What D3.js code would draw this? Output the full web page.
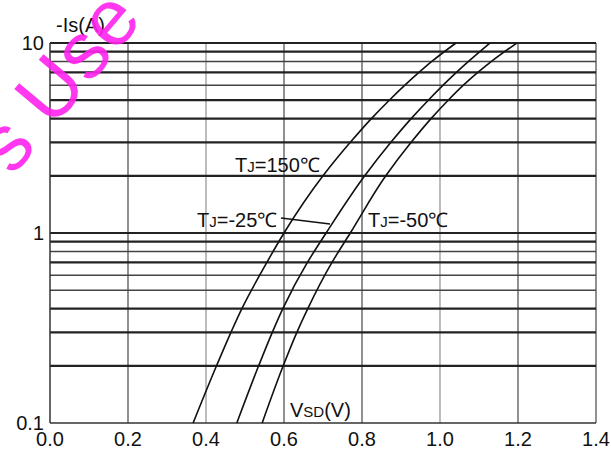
<!DOCTYPE html>
<html><head><meta charset="utf-8">
<script src="https://cdn.jsdelivr.net/npm/d3@7/dist/d3.min.js"></script>
<style>
html,body{margin:0;padding:0;background:#fff;}
svg{display:block;font-family:"Liberation Sans",Arial,sans-serif;}
</style></head>
<body>
<svg id="chart" width="611" height="452"></svg>
<script>
// ---- data ----
const currentA = [0.1, 0.2, 0.3, 0.4, 0.7, 1, 2, 3, 4, 5, 6, 7, 8, 10];
const vsd150 = [0.367, 0.427, 0.464, 0.492, 0.556, 0.600, 0.700, 0.770, 0.824, 0.870, 0.910, 0.946, 0.979, 1.041];
const vsdM25 = [0.479, 0.535, 0.570, 0.597, 0.660, 0.708, 0.807, 0.874, 0.926, 0.970, 1.008, 1.042, 1.073, 1.128];
const vsdM50 = [0.544, 0.598, 0.633, 0.661, 0.723, 0.770, 0.861, 0.926, 0.977, 1.021, 1.060, 1.097, 1.132, 1.197];
const xTicks = [0, 0.2, 0.4, 0.6, 0.8, 1.0, 1.2, 1.4];
const yTickLabels = [{v: 10, t: "10"}, {v: 1, t: "1"}, {v: 0.1, t: "0.1"}];
const yGrid = [0.2,0.3,0.4,0.5,0.6,0.7,0.8,0.9,1,2,3,4,5,6,7,8,9,10];
const thinGrid = [0.5, 0.6, 0.8, 6, 8];

const svg = d3.select("#chart");
const x = d3.scaleLinear().domain([0, 1.4]).range([50, 596]);
const y = d3.scaleLog().domain([0.1, 10]).range([423, 43]);

// vertical grid
svg.append("g").selectAll("line").data(xTicks.slice(1)).join("line")
  .attr("x1", d => x(d)).attr("x2", d => x(d))
  .attr("y1", y(10)).attr("y2", y(0.1))
  .attr("stroke", d => (d === 0.4 || d === 1.0) ? "#999" : "#555")
  .attr("stroke-width", 1.3);

// horizontal grid
svg.append("g").selectAll("line").data(yGrid).join("line")
  .attr("x1", x(0)).attr("x2", x(1.4))
  .attr("y1", d => y(d)).attr("y2", d => y(d))
  .attr("stroke", d => thinGrid.includes(d) ? "#444" : "#222")
  .attr("stroke-width", d => thinGrid.includes(d) ? 1.5 : 2.2);

// axes lines
svg.append("line").attr("x1", x(0)).attr("x2", x(0)).attr("y1", y(10)).attr("y2", y(0.1))
  .attr("stroke", "#333").attr("stroke-width", 1.5);
svg.append("line").attr("x1", x(0)).attr("x2", x(1.4)).attr("y1", y(0.1)).attr("y2", y(0.1))
  .attr("stroke", "#333").attr("stroke-width", 1.5);

// curves
const line = d3.line().x(d => x(d[0])).y(d => y(d[1])).curve(d3.curveMonotoneY);
[vsd150, vsdM25, vsdM50].forEach(s => {
  svg.append("path")
    .datum(s.map((v, i) => [v, currentA[i]]))
    .attr("d", line)
    .attr("fill", "none")
    .attr("stroke", "#111")
    .attr("stroke-width", 1.6);
});

// x tick labels
svg.append("g").selectAll("text").data(xTicks).join("text")
  .attr("x", d => x(d)).attr("y", 446)
  .attr("text-anchor", "middle")
  .attr("font-size", 20).attr("fill", "#111")
  .text(d => d.toFixed(1));

// y tick labels
svg.append("g").selectAll("text").data(yTickLabels).join("text")
  .attr("x", 44).attr("y", d => y(d.v) + 7)
  .attr("text-anchor", "end")
  .attr("font-size", 20).attr("fill", "#111")
  .text(d => d.t);

// axis titles
svg.append("text").attr("x", 56).attr("y", 32).attr("font-size", 20).attr("fill", "#111").text("-Is(A)");
const vt = svg.append("text").attr("x", 290).attr("y", 417).attr("font-size", 20).attr("fill", "#111");
vt.append("tspan").text("V");
vt.append("tspan").attr("font-size", 15).text("SD");
vt.append("tspan").text("(V)");

// curve labels
function tjLabel(px, py, val) {
  const t = svg.append("text").attr("x", px).attr("y", py).attr("font-size", 20).attr("fill", "#111");
  t.append("tspan").text("T");
  t.append("tspan").attr("font-size", 15).text("J");
  t.append("tspan").text("=" + val + "℃");
}
tjLabel(235, 172, "150");
tjLabel(197, 227, "-25");
tjLabel(368, 227, "-50");
// leader line
svg.append("line").attr("x1", 281).attr("y1", 218).attr("x2", x(0.718)).attr("y2", 224)
  .attr("stroke", "#111").attr("stroke-width", 1.3);

// watermark (drawn on top, as in the reference scan)
svg.append("text")
  .attr("transform", "translate(60,120) rotate(-50)")
  .attr("x", -74)
  .attr("font-size", 80)
  .attr("fill", "#ff22ee")
  .attr("opacity", 0.9)
  .text("s Use");
</script>
</body></html>
